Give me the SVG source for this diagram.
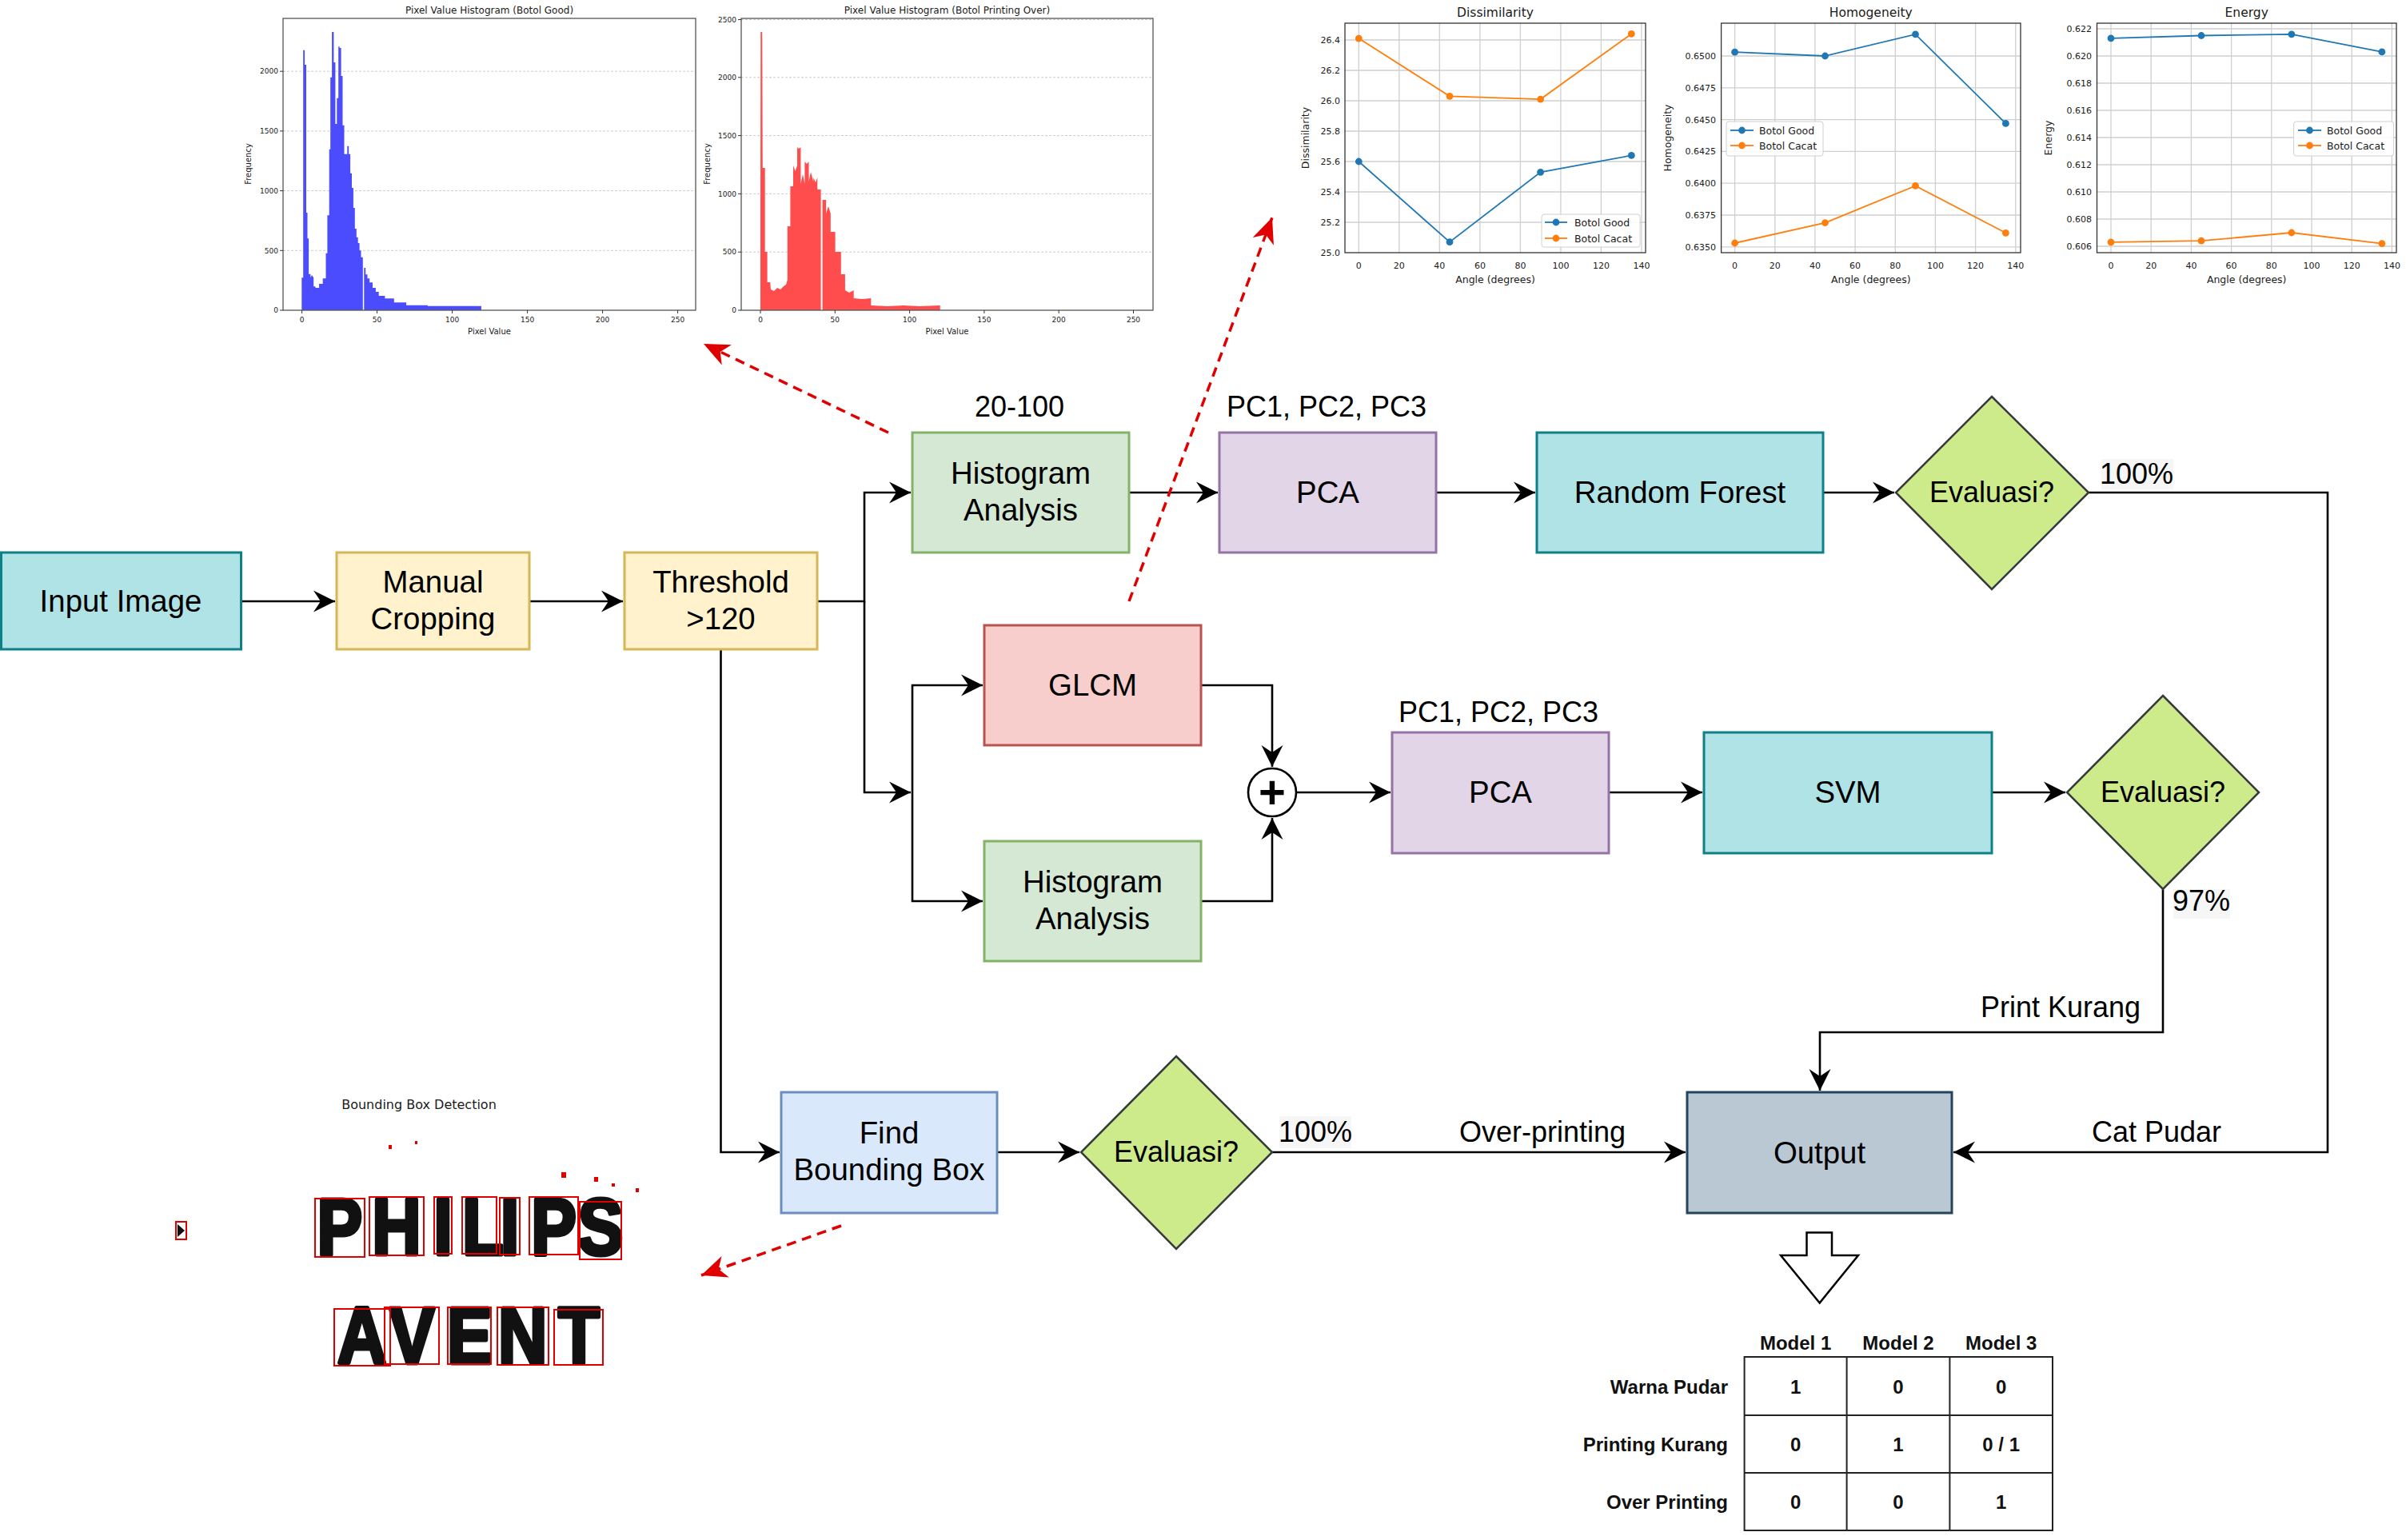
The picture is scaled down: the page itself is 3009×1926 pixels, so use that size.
<svg xmlns="http://www.w3.org/2000/svg" width="3009" height="1926" viewBox="0 0 3009 1926">
<style>
  .bg { fill:#ffffff; }
  .box { stroke-width:3; }
  .dia { fill:#cdeb8b; stroke:#36393d; stroke-width:2.5; }
  .lbl { font-family:"Liberation Sans", Arial, Helvetica, sans-serif; font-size:38.4px; fill:#000; text-anchor:middle; }
  .elbl { font-family:"Liberation Sans", Arial, Helvetica, sans-serif; font-size:36px; fill:#000; text-anchor:middle; }
  .elbl-bg { fill:#f6f6f6; }
  .conn { fill:none; stroke:#000; stroke-width:2.6; }
  .red { fill:none; stroke:#e00000; stroke-width:3.5; stroke-dasharray:12 8; }
  .mpl { font-family:"DejaVu Sans", Verdana, sans-serif; fill:#1a1a1a; }
  .ttl { font-size:15.5px; text-anchor:middle; }
  .tickx { font-size:11px; text-anchor:middle; }
  .ticky { font-size:11px; text-anchor:end; }
  .alab { font-size:12.5px; text-anchor:middle; }
  .leg { font-size:12.5px; }
  .htl { font-size:12px; text-anchor:middle; }
  .htx { font-size:9px; text-anchor:middle; }
  .hty { font-size:9px; text-anchor:end; }
  .hlab { font-size:10px; text-anchor:middle; }
  .frame { fill:none; stroke:#333; stroke-width:1.3; }
  .hframe { fill:none; stroke:#555; stroke-width:1.3; }
  .grid { stroke:#cfcfcf; stroke-width:1.3; fill:none; }
  .hgrid { stroke:#cccccc; stroke-width:1; stroke-dasharray:3 2; fill:none; }
  .tk { stroke:#333; stroke-width:1; }
  .lb { fill:none; stroke:#1f77b4; stroke-width:1.8; marker-start:url(#mb); marker-mid:url(#mb); marker-end:url(#mb); }
  .lo { fill:none; stroke:#ff7f0e; stroke-width:1.8; marker-start:url(#mo); marker-mid:url(#mo); marker-end:url(#mo); }
  .legbox { fill:#ffffff; fill-opacity:0.85; stroke:#d0d0d0; stroke-width:1; }
  .bbox { fill:none; stroke:#e00000; stroke-width:2; }
  .logo { font-family:"Liberation Sans", Arial, sans-serif; font-weight:bold; font-size:100px; fill:#111; stroke:#111; stroke-width:5; stroke-linejoin:round; }
  .tbl { font-family:"Liberation Sans", Arial, sans-serif; font-weight:bold; font-size:24px; fill:#111; }
  .tline { stroke:#222; stroke-width:2; fill:none; }
</style>
<defs>
  <marker id="arr" markerUnits="userSpaceOnUse" markerWidth="32" markerHeight="32" viewBox="-30 -16 32 32" refX="0" refY="0" orient="auto">
    <path d="M0,0 L-27,-13.5 L-18,0 L-27,13.5 Z" fill="#000"/>
  </marker>
  <marker id="rarr" markerUnits="userSpaceOnUse" markerWidth="40" markerHeight="40" viewBox="-36 -20 40 40" refX="0" refY="0" orient="auto">
    <path d="M0,0 L-32,-14 L-23,0 L-32,14 Z" fill="#e00000"/>
  </marker>
  <marker id="mb" markerUnits="userSpaceOnUse" markerWidth="12" markerHeight="12" viewBox="0 0 12 12" refX="6" refY="6">
    <circle cx="6" cy="6" r="4.4" fill="#1f77b4"/>
  </marker>
  <marker id="mo" markerUnits="userSpaceOnUse" markerWidth="12" markerHeight="12" viewBox="0 0 12 12" refX="6" refY="6">
    <circle cx="6" cy="6" r="4.4" fill="#ff7f0e"/>
  </marker>
</defs>
<rect class="bg" x="0" y="0" width="3009" height="1926"/>

<!-- ===== Histogram chart 1 ===== -->
<g id="chart-hist-good" class="mpl">
  <text class="htl" x="612" y="17">Pixel Value Histogram (Botol Good)</text>
  <g class="hgrid">
    <line x1="354" y1="313.3" x2="870" y2="313.3"/>
    <line x1="354" y1="238.6" x2="870" y2="238.6"/>
    <line x1="354" y1="163.9" x2="870" y2="163.9"/>
    <line x1="354" y1="89.2" x2="870" y2="89.2"/>
  </g>
  <polygon fill="#4c4cff" points="377.3,388 377.3,347.3 379.2,347.3 379.2,62.7 381.1,62.7 381.1,81 383,81 383,266 384.5,266 384.5,298.3 386.1,298.3 386.1,342.7 388.4,342.7 388.4,347.3 390,344 392.2,347.3 392.2,358.3 394.5,358.3 394.5,360 399.1,360 399.1,355 403.7,355 403.7,348.3 407.5,348.3 407.5,316.7 409.4,316.7 409.4,269.3 411.7,269.3 411.7,186.7 413.2,186.7 413.2,96.7 415.1,96.7 415.1,40 417.4,40 417.4,78 419.4,78 419.4,155 421.3,155 421.3,122.7 423.2,122.7 423.2,58.3 424.7,58.3 424.7,60 426.6,60 426.6,95 428.5,95 428.5,156.7 430.5,156.7 430.5,192.7 434.3,192.7 434.3,182.7 436.2,182.7 436.2,192.7 438.1,192.7 438.1,216.7 440,216.7 440,235 441.9,235 441.9,260 443.8,260 443.8,286 445.8,286 445.8,296.7 447.7,296.7 447.7,304 449.6,304 449.6,313.3 451.5,313.3 451.5,321.7 453.8,321.7 453.8,388 455.3,388 455.3,335 457.2,335 457.2,343.3 459.5,343.3 459.5,348.3 462.2,348.3 462.2,353.3 466,353.3 466,360 469.9,360 469.9,365 473.7,365 473.7,370 481.4,370 481.4,373.3 492.8,373.3 492.8,378.3 508.1,378.3 508.1,381.7 534.9,381.7 534.9,382.7 601.9,382.7 601.9,388"/>
  <rect class="hframe" x="354" y="23" width="516" height="365"/>
  <g class="tk">
    <line x1="377.6" y1="388" x2="377.6" y2="392"/><line x1="471.6" y1="388" x2="471.6" y2="392"/><line x1="565.6" y1="388" x2="565.6" y2="392"/>
    <line x1="659.6" y1="388" x2="659.6" y2="392"/><line x1="753.6" y1="388" x2="753.6" y2="392"/><line x1="847.6" y1="388" x2="847.6" y2="392"/>
    <line x1="350" y1="388" x2="354" y2="388"/><line x1="350" y1="313.3" x2="354" y2="313.3"/><line x1="350" y1="238.6" x2="354" y2="238.6"/>
    <line x1="350" y1="163.9" x2="354" y2="163.9"/><line x1="350" y1="89.2" x2="354" y2="89.2"/>
  </g>
  <text class="htx" x="377.6" y="403">0</text><text class="htx" x="471.6" y="403">50</text><text class="htx" x="565.6" y="403">100</text>
  <text class="htx" x="659.6" y="403">150</text><text class="htx" x="753.6" y="403">200</text><text class="htx" x="847.6" y="403">250</text>
  <text class="hty" x="348" y="391">0</text><text class="hty" x="348" y="316.5">500</text><text class="hty" x="348" y="241.8">1000</text>
  <text class="hty" x="348" y="167">1500</text><text class="hty" x="348" y="92.4">2000</text>
  <text class="hlab" x="612" y="418">Pixel Value</text>
  <text class="hlab" transform="translate(314,205) rotate(-90)">Frequency</text>
</g>

<!-- ===== Histogram chart 2 ===== -->
<g id="chart-hist-over" class="mpl">
  <text class="htl" x="1184.5" y="17">Pixel Value Histogram (Botol Printing Over)</text>
  <g class="hgrid">
    <line x1="927" y1="315.2" x2="1442" y2="315.2"/>
    <line x1="927" y1="242.4" x2="1442" y2="242.4"/>
    <line x1="927" y1="169.6" x2="1442" y2="169.6"/>
    <line x1="927" y1="96.8" x2="1442" y2="96.8"/>
    <line x1="927" y1="24.5" x2="1442" y2="24.5"/>
  </g>
  <polygon fill="#ff4d4d" points="951,388 951,257 951.3,40 953.2,40 953.8,210 956.7,210 956.7,315 959.6,315 959.6,353 963.2,353 964,362 968,364 972,360 976,362 980,358 983,356 984.8,350 984.8,283 988.4,283 988.4,233 992,233 992,207 994.5,214 997,207 997,184 999,186 1001.4,184 1001.4,230 1004,218 1006.4,230 1006.4,202 1009,205 1011.5,202 1011.5,227 1014,215 1017.2,227 1017.2,222 1020,228 1022.3,222 1022.3,237 1026.6,237 1026.6,388 1028.6,388 1028.6,250 1033.1,250 1033.1,267 1036,258 1038.8,267 1038.8,290 1044.6,290 1044.6,315 1051.8,315 1051.8,343 1056.9,343 1056.9,363 1062,366 1067.7,363 1067.7,373 1078,374 1089.3,373 1089.3,382 1110,383 1130,382 1150,383 1175.7,382 1175.7,388"/>
  <rect class="hframe" x="927" y="23" width="515" height="365"/>
  <g class="tk">
    <line x1="951" y1="388" x2="951" y2="392"/><line x1="1044.3" y1="388" x2="1044.3" y2="392"/><line x1="1137.6" y1="388" x2="1137.6" y2="392"/>
    <line x1="1230.9" y1="388" x2="1230.9" y2="392"/><line x1="1324.2" y1="388" x2="1324.2" y2="392"/><line x1="1417.5" y1="388" x2="1417.5" y2="392"/>
    <line x1="923" y1="388" x2="927" y2="388"/><line x1="923" y1="315.2" x2="927" y2="315.2"/><line x1="923" y1="242.4" x2="927" y2="242.4"/>
    <line x1="923" y1="169.6" x2="927" y2="169.6"/><line x1="923" y1="96.8" x2="927" y2="96.8"/><line x1="923" y1="24.5" x2="927" y2="24.5"/>
  </g>
  <text class="htx" x="951" y="403">0</text><text class="htx" x="1044.3" y="403">50</text><text class="htx" x="1137.6" y="403">100</text>
  <text class="htx" x="1230.9" y="403">150</text><text class="htx" x="1324.2" y="403">200</text><text class="htx" x="1417.5" y="403">250</text>
  <text class="hty" x="921" y="391">0</text><text class="hty" x="921" y="318.4">500</text><text class="hty" x="921" y="245.6">1000</text>
  <text class="hty" x="921" y="172.8">1500</text><text class="hty" x="921" y="100">2000</text><text class="hty" x="921" y="27.7">2500</text>
  <text class="hlab" x="1184.5" y="418">Pixel Value</text>
  <text class="hlab" transform="translate(888,205) rotate(-90)">Frequency</text>
</g>

<!-- ===== Dissimilarity chart ===== -->
<g id="chart-dissimilarity" class="mpl">
  <text class="ttl" x="1870" y="21">Dissimilarity</text>
  <g class="grid">
    <line x1="1699.3" y1="29" x2="1699.3" y2="316"/><line x1="1749.8" y1="29" x2="1749.8" y2="316"/><line x1="1800.3" y1="29" x2="1800.3" y2="316"/>
    <line x1="1850.9" y1="29" x2="1850.9" y2="316"/><line x1="1901.4" y1="29" x2="1901.4" y2="316"/><line x1="1951.9" y1="29" x2="1951.9" y2="316"/>
    <line x1="2002.4" y1="29" x2="2002.4" y2="316"/><line x1="2052.9" y1="29" x2="2052.9" y2="316"/>
    <line x1="1682" y1="278" x2="2058" y2="278"/><line x1="1682" y1="240" x2="2058" y2="240"/><line x1="1682" y1="202" x2="2058" y2="202"/>
    <line x1="1682" y1="164" x2="2058" y2="164"/><line x1="1682" y1="126" x2="2058" y2="126"/><line x1="1682" y1="88" x2="2058" y2="88"/>
    <line x1="1682" y1="50" x2="2058" y2="50"/>
  </g>
  <rect class="frame" x="1682" y="29" width="376" height="287"/>
  <polyline class="lb" points="1699.3,202 1813,302.7 1926.6,215.3 2040.3,194.4"/>
  <polyline class="lo" points="1699.3,48.1 1813,120.3 1926.6,124.1 2040.3,42.4"/>
  <text class="tickx" x="1699.3" y="336">0</text><text class="tickx" x="1749.8" y="336">20</text><text class="tickx" x="1800.3" y="336">40</text>
  <text class="tickx" x="1850.9" y="336">60</text><text class="tickx" x="1901.4" y="336">80</text><text class="tickx" x="1951.9" y="336">100</text>
  <text class="tickx" x="2002.4" y="336">120</text><text class="tickx" x="2052.9" y="336">140</text>
  <text class="ticky" x="1676" y="320">25.0</text><text class="ticky" x="1676" y="282">25.2</text><text class="ticky" x="1676" y="244">25.4</text>
  <text class="ticky" x="1676" y="206">25.6</text><text class="ticky" x="1676" y="168">25.8</text><text class="ticky" x="1676" y="130">26.0</text>
  <text class="ticky" x="1676" y="92">26.2</text><text class="ticky" x="1676" y="54">26.4</text>
  <text class="alab" x="1870" y="354">Angle (degrees)</text>
  <text class="alab" transform="translate(1636.5,172.5) rotate(-90)">Dissimilarity</text>
  <rect class="legbox" x="1928" y="268" width="123" height="41" rx="3"/>
  <line x1="1932" y1="278" x2="1960" y2="278" stroke="#1f77b4" stroke-width="1.8"/><circle cx="1946" cy="278" r="4.4" fill="#1f77b4"/>
  <line x1="1932" y1="298" x2="1960" y2="298" stroke="#ff7f0e" stroke-width="1.8"/><circle cx="1946" cy="298" r="4.4" fill="#ff7f0e"/>
  <text class="leg" x="1969" y="282.5">Botol Good</text>
  <text class="leg" x="1969" y="302.5">Botol Cacat</text>
</g>

<!-- ===== Homogeneity chart ===== -->
<g id="chart-homogeneity" class="mpl">
  <text class="ttl" x="2339.8" y="21">Homogeneity</text>
  <g class="grid">
    <line x1="2169.6" y1="29" x2="2169.6" y2="316"/><line x1="2219.8" y1="29" x2="2219.8" y2="316"/><line x1="2269.9" y1="29" x2="2269.9" y2="316"/>
    <line x1="2320.1" y1="29" x2="2320.1" y2="316"/><line x1="2370.3" y1="29" x2="2370.3" y2="316"/><line x1="2420.4" y1="29" x2="2420.4" y2="316"/>
    <line x1="2470.6" y1="29" x2="2470.6" y2="316"/><line x1="2520.8" y1="29" x2="2520.8" y2="316"/>
    <line x1="2152.6" y1="308.8" x2="2527" y2="308.8"/><line x1="2152.6" y1="269" x2="2527" y2="269"/><line x1="2152.6" y1="229.2" x2="2527" y2="229.2"/>
    <line x1="2152.6" y1="189.4" x2="2527" y2="189.4"/><line x1="2152.6" y1="149.6" x2="2527" y2="149.6"/><line x1="2152.6" y1="109.8" x2="2527" y2="109.8"/>
    <line x1="2152.6" y1="70" x2="2527" y2="70"/>
  </g>
  <rect class="frame" x="2152.6" y="29" width="374.4" height="287"/>
  <polyline class="lb" points="2169.6,65.2 2282.5,70 2395.5,42.9 2508.4,154.4"/>
  <polyline class="lo" points="2169.6,304 2282.5,278.6 2395.5,232.4 2508.4,291.3"/>
  <text class="tickx" x="2169.6" y="336">0</text><text class="tickx" x="2219.8" y="336">20</text><text class="tickx" x="2269.9" y="336">40</text>
  <text class="tickx" x="2320.1" y="336">60</text><text class="tickx" x="2370.3" y="336">80</text><text class="tickx" x="2420.4" y="336">100</text>
  <text class="tickx" x="2470.6" y="336">120</text><text class="tickx" x="2520.8" y="336">140</text>
  <text class="ticky" x="2146" y="312.8">0.6350</text><text class="ticky" x="2146" y="273">0.6375</text><text class="ticky" x="2146" y="233.2">0.6400</text>
  <text class="ticky" x="2146" y="193.4">0.6425</text><text class="ticky" x="2146" y="153.6">0.6450</text><text class="ticky" x="2146" y="113.8">0.6475</text>
  <text class="ticky" x="2146" y="74">0.6500</text>
  <text class="alab" x="2339.8" y="354">Angle (degrees)</text>
  <text class="alab" transform="translate(2089.5,172.5) rotate(-90)">Homogeneity</text>
  <rect class="legbox" x="2159" y="152" width="121" height="43" rx="3"/>
  <line x1="2164" y1="163" x2="2193" y2="163" stroke="#1f77b4" stroke-width="1.8"/><circle cx="2178.5" cy="163" r="4.4" fill="#1f77b4"/>
  <line x1="2164" y1="182" x2="2193" y2="182" stroke="#ff7f0e" stroke-width="1.8"/><circle cx="2178.5" cy="182" r="4.4" fill="#ff7f0e"/>
  <text class="leg" x="2200" y="167.5">Botol Good</text>
  <text class="leg" x="2200" y="186.5">Botol Cacat</text>
</g>

<!-- ===== Energy chart ===== -->
<g id="chart-energy" class="mpl">
  <text class="ttl" x="2809.7" y="21">Energy</text>
  <g class="grid">
    <line x1="2640" y1="29" x2="2640" y2="316"/><line x1="2690.2" y1="29" x2="2690.2" y2="316"/><line x1="2740.4" y1="29" x2="2740.4" y2="316"/>
    <line x1="2790.6" y1="29" x2="2790.6" y2="316"/><line x1="2840.8" y1="29" x2="2840.8" y2="316"/><line x1="2891" y1="29" x2="2891" y2="316"/>
    <line x1="2941.2" y1="29" x2="2941.2" y2="316"/><line x1="2991.4" y1="29" x2="2991.4" y2="316"/>
    <line x1="2622.5" y1="36" x2="2997" y2="36"/><line x1="2622.5" y1="70" x2="2997" y2="70"/><line x1="2622.5" y1="104" x2="2997" y2="104"/>
    <line x1="2622.5" y1="138" x2="2997" y2="138"/><line x1="2622.5" y1="172" x2="2997" y2="172"/><line x1="2622.5" y1="206" x2="2997" y2="206"/>
    <line x1="2622.5" y1="240" x2="2997" y2="240"/><line x1="2622.5" y1="274" x2="2997" y2="274"/><line x1="2622.5" y1="308" x2="2997" y2="308"/>
  </g>
  <rect class="frame" x="2622.5" y="29" width="374.5" height="287"/>
  <polyline class="lb" points="2640,47.9 2753,44.5 2865.9,42.8 2978.9,64.9"/>
  <polyline class="lo" points="2640,302.9 2753,301.2 2865.9,291 2978.9,304.6"/>
  <text class="tickx" x="2640" y="336">0</text><text class="tickx" x="2690.2" y="336">20</text><text class="tickx" x="2740.4" y="336">40</text>
  <text class="tickx" x="2790.6" y="336">60</text><text class="tickx" x="2840.8" y="336">80</text><text class="tickx" x="2891" y="336">100</text>
  <text class="tickx" x="2941.2" y="336">120</text><text class="tickx" x="2991.4" y="336">140</text>
  <text class="ticky" x="2616" y="40">0.622</text><text class="ticky" x="2616" y="74">0.620</text><text class="ticky" x="2616" y="108">0.618</text>
  <text class="ticky" x="2616" y="142">0.616</text><text class="ticky" x="2616" y="176">0.614</text><text class="ticky" x="2616" y="210">0.612</text>
  <text class="ticky" x="2616" y="244">0.610</text><text class="ticky" x="2616" y="278">0.608</text><text class="ticky" x="2616" y="312">0.606</text>
  <text class="alab" x="2809.7" y="354">Angle (degrees)</text>
  <text class="alab" transform="translate(2565.5,172.5) rotate(-90)">Energy</text>
  <rect class="legbox" x="2868.6" y="152" width="125" height="43" rx="3"/>
  <line x1="2874" y1="163" x2="2903" y2="163" stroke="#1f77b4" stroke-width="1.8"/><circle cx="2888.5" cy="163" r="4.4" fill="#1f77b4"/>
  <line x1="2874" y1="182" x2="2903" y2="182" stroke="#ff7f0e" stroke-width="1.8"/><circle cx="2888.5" cy="182" r="4.4" fill="#ff7f0e"/>
  <text class="leg" x="2910" y="167.5">Botol Good</text>
  <text class="leg" x="2910" y="186.5">Botol Cacat</text>
</g>

<!-- ===== Bounding box detection picture ===== -->
<g id="bbox-detection">
  <text class="mpl" x="524" y="1387" font-size="16" text-anchor="middle">Bounding Box Detection</text>
  <g fill="#e00000">
    <rect x="486" y="1432" width="4" height="5"/><rect x="519" y="1427" width="3" height="4"/>
    <rect x="702" y="1466" width="6" height="7"/><rect x="743" y="1472" width="5" height="6"/>
    <rect x="765" y="1480" width="4" height="4"/><rect x="795" y="1486" width="4" height="5"/>
  </g>
  <rect x="220" y="1528" width="13" height="22" fill="none" stroke="#e00000" stroke-width="2"/>
  <polygon points="222,1531 231,1539 222,1547" fill="#111"/>
  <text class="logo" transform="scale(0.85,1)" x="466.6 547.4 637.9 680 736.1 781.4 850.2" y="1569">PHILIPS</text>
  <text class="logo" transform="scale(0.85,1)" x="496.5 572.9 657.6 732.9 821.2" y="1705">AVENT</text>
  <rect class="bbox" x="394" y="1499" width="62" height="73"/>
  <rect class="bbox" x="462" y="1497" width="68" height="73"/>
  <rect class="bbox" x="543" y="1497" width="22" height="71"/>
  <rect class="bbox" x="578" y="1497" width="43" height="71"/>
  <rect class="bbox" x="625" y="1498" width="25" height="71"/>
  <rect class="bbox" x="662" y="1497" width="61" height="72"/>
  <rect class="bbox" x="725" y="1503" width="52" height="72"/>
  <rect class="bbox" x="418" y="1637" width="70" height="71"/>
  <rect class="bbox" x="481" y="1635" width="68" height="71"/>
  <rect class="bbox" x="560" y="1635" width="54" height="71"/>
  <rect class="bbox" x="622" y="1635" width="64" height="72"/>
  <rect class="bbox" x="693" y="1638" width="61" height="69"/>
</g>

<!-- ===== Connectors ===== -->
<g id="connectors">
  <path class="conn" d="M302,752 H419" marker-end="url(#arr)"/>
  <path class="conn" d="M662,752 H779" marker-end="url(#arr)"/>
  <path class="conn" d="M1022,752 H1081 V616 H1139" marker-end="url(#arr)"/>
  <path class="conn" d="M1081,752 V991 H1139" marker-end="url(#arr)"/>
  <path class="conn" d="M1141,991 V857 H1229" marker-end="url(#arr)"/>
  <path class="conn" d="M1141,991 V1127 H1229" marker-end="url(#arr)"/>
  <path class="conn" d="M1412,616 H1523" marker-end="url(#arr)"/>
  <path class="conn" d="M1796,616 H1920" marker-end="url(#arr)"/>
  <path class="conn" d="M2280,616 H2369" marker-end="url(#arr)"/>
  <path class="conn" d="M2612,616 H2911 V1441 H2443" marker-end="url(#arr)"/>
  <path class="conn" d="M1502,857 H1591 V959" marker-end="url(#arr)"/>
  <path class="conn" d="M1502,1127 H1591 V1023" marker-end="url(#arr)"/>
  <path class="conn" d="M1621,991 H1739" marker-end="url(#arr)"/>
  <path class="conn" d="M2012,991 H2129" marker-end="url(#arr)"/>
  <path class="conn" d="M2491,991 H2583" marker-end="url(#arr)"/>
  <path class="conn" d="M2705,1112 V1291 H2276 V1364" marker-end="url(#arr)"/>
  <path class="conn" d="M901.5,812 V1441 H975" marker-end="url(#arr)"/>
  <path class="conn" d="M1247,1441 H1350" marker-end="url(#arr)"/>
  <path class="conn" d="M1591,1441 H2108" marker-end="url(#arr)"/>
  <path class="red" d="M1111,541 L880,430" marker-end="url(#rarr)"/>
  <path class="red" d="M1412,752 L1591,272" marker-end="url(#rarr)"/>
  <path class="red" d="M1052,1533 L877,1595" marker-end="url(#rarr)"/>
  <!-- edge labels -->
  <text class="elbl" x="1275" y="521">20-100</text>
  <text class="elbl" x="1659" y="521">PC1, PC2, PC3</text>
  <rect class="elbl-bg" x="2628" y="574" width="90" height="38"/>
  <text class="elbl" x="2672" y="605">100%</text>
  <text class="elbl" x="1874" y="903">PC1, PC2, PC3</text>
  <rect class="elbl-bg" x="2718" y="1112" width="71" height="37"/>
  <text class="elbl" x="2753" y="1139">97%</text>
  <text class="elbl" x="2577" y="1272">Print Kurang</text>
  <text class="elbl" x="2697" y="1428">Cat Pudar</text>
  <text class="elbl" x="1929" y="1428">Over-printing</text>
  <rect class="elbl-bg" x="1600" y="1396" width="90" height="40"/>
  <text class="elbl" x="1645" y="1428">100%</text>
</g>

<!-- ===== Nodes ===== -->
<g id="node-input">
  <rect class="box" x="1.5" y="691" width="300" height="121" fill="#b0e3e6" stroke="#0e8088"/>
  <text class="lbl" x="151" y="765">Input Image</text>
</g>
<g id="node-cropping">
  <rect class="box" x="421" y="691" width="241" height="121" fill="#fff2cc" stroke="#d6b656"/>
  <text class="lbl" x="541.5" y="741">Manual</text>
  <text class="lbl" x="541.5" y="787">Cropping</text>
</g>
<g id="node-threshold">
  <rect class="box" x="781" y="691" width="241" height="121" fill="#fff2cc" stroke="#d6b656"/>
  <text class="lbl" x="901.5" y="741">Threshold</text>
  <text class="lbl" x="901.5" y="787">&gt;120</text>
</g>
<g id="node-hist-top">
  <rect class="box" x="1141" y="541" width="271" height="150" fill="#d5e8d4" stroke="#82b366"/>
  <text class="lbl" x="1276.5" y="605">Histogram</text>
  <text class="lbl" x="1276.5" y="651">Analysis</text>
</g>
<g id="node-pca-top">
  <rect class="box" x="1525" y="541" width="271" height="150" fill="#e1d5e7" stroke="#9673a6"/>
  <text class="lbl" x="1660.5" y="629">PCA</text>
</g>
<g id="node-rf">
  <rect class="box" x="1922" y="541" width="358" height="150" fill="#b0e3e6" stroke="#0e8088"/>
  <text class="lbl" x="2101" y="629">Random Forest</text>
</g>
<g id="node-eval-top">
  <polygon class="dia" points="2491,496 2612,616 2491,737 2371,616"/>
  <text class="elbl" x="2491" y="628">Evaluasi?</text>
</g>
<g id="node-glcm">
  <rect class="box" x="1231" y="782" width="271" height="150" fill="#f8cecc" stroke="#b85450"/>
  <text class="lbl" x="1366.5" y="870">GLCM</text>
</g>
<g id="node-hist-low">
  <rect class="box" x="1231" y="1052" width="271" height="150" fill="#d5e8d4" stroke="#82b366"/>
  <text class="lbl" x="1366.5" y="1116">Histogram</text>
  <text class="lbl" x="1366.5" y="1162">Analysis</text>
</g>
<g id="node-sum">
  <circle cx="1591" cy="991" r="30" fill="#ffffff" stroke="#000" stroke-width="2.6"/>
  <text x="1591" y="1011" font-family="Liberation Sans, Arial, sans-serif" font-size="58" font-weight="bold" text-anchor="middle" fill="#000">+</text>
</g>
<g id="node-pca-mid">
  <rect class="box" x="1741" y="916" width="271" height="151" fill="#e1d5e7" stroke="#9673a6"/>
  <text class="lbl" x="1876.5" y="1004">PCA</text>
</g>
<g id="node-svm">
  <rect class="box" x="2131" y="916" width="360" height="151" fill="#b0e3e6" stroke="#0e8088"/>
  <text class="lbl" x="2311" y="1004">SVM</text>
</g>
<g id="node-eval-mid">
  <polygon class="dia" points="2705,870 2825,991 2705,1112 2585,991"/>
  <text class="elbl" x="2705" y="1003">Evaluasi?</text>
</g>
<g id="node-findbb">
  <rect class="box" x="977" y="1366" width="270" height="151" fill="#dae8fc" stroke="#6c8ebf"/>
  <text class="lbl" x="1112" y="1430">Find</text>
  <text class="lbl" x="1112" y="1476">Bounding Box</text>
</g>
<g id="node-eval-bot">
  <polygon class="dia" points="1471,1321 1591,1441 1471,1562 1352,1441"/>
  <text class="elbl" x="1471" y="1453">Evaluasi?</text>
</g>
<g id="node-output">
  <rect class="box" x="2110" y="1366" width="331" height="151" fill="#bac8d3" stroke="#23445d"/>
  <text class="lbl" x="2275.5" y="1455">Output</text>
</g>
<g id="node-down-arrow">
  <polygon points="2259.5,1541.5 2291,1541.5 2291,1570 2324,1570 2275.7,1629.5 2227,1570 2259.5,1570" fill="#ffffff" stroke="#000" stroke-width="2.5" stroke-linejoin="miter"/>
</g>
<g id="node-table">
  <rect class="tline" x="2181.6" y="1697" width="385.4" height="217"/>
  <line class="tline" x1="2309.6" y1="1697" x2="2309.6" y2="1914"/>
  <line class="tline" x1="2438.4" y1="1697" x2="2438.4" y2="1914"/>
  <line class="tline" x1="2181.6" y1="1770" x2="2567" y2="1770"/>
  <line class="tline" x1="2181.6" y1="1842" x2="2567" y2="1842"/>
  <text class="tbl" x="2245.6" y="1688" text-anchor="middle">Model 1</text>
  <text class="tbl" x="2374" y="1688" text-anchor="middle">Model 2</text>
  <text class="tbl" x="2502.7" y="1688" text-anchor="middle">Model 3</text>
  <text class="tbl" x="2161" y="1743" text-anchor="end">Warna Pudar</text>
  <text class="tbl" x="2161" y="1815" text-anchor="end">Printing Kurang</text>
  <text class="tbl" x="2161" y="1887" text-anchor="end">Over Printing</text>
  <text class="tbl" x="2245.6" y="1743" text-anchor="middle">1</text>
  <text class="tbl" x="2374" y="1743" text-anchor="middle">0</text>
  <text class="tbl" x="2502.7" y="1743" text-anchor="middle">0</text>
  <text class="tbl" x="2245.6" y="1815" text-anchor="middle">0</text>
  <text class="tbl" x="2374" y="1815" text-anchor="middle">1</text>
  <text class="tbl" x="2502.7" y="1815" text-anchor="middle">0 / 1</text>
  <text class="tbl" x="2245.6" y="1887" text-anchor="middle">0</text>
  <text class="tbl" x="2374" y="1887" text-anchor="middle">0</text>
  <text class="tbl" x="2502.7" y="1887" text-anchor="middle">1</text>
</g>
</svg>
